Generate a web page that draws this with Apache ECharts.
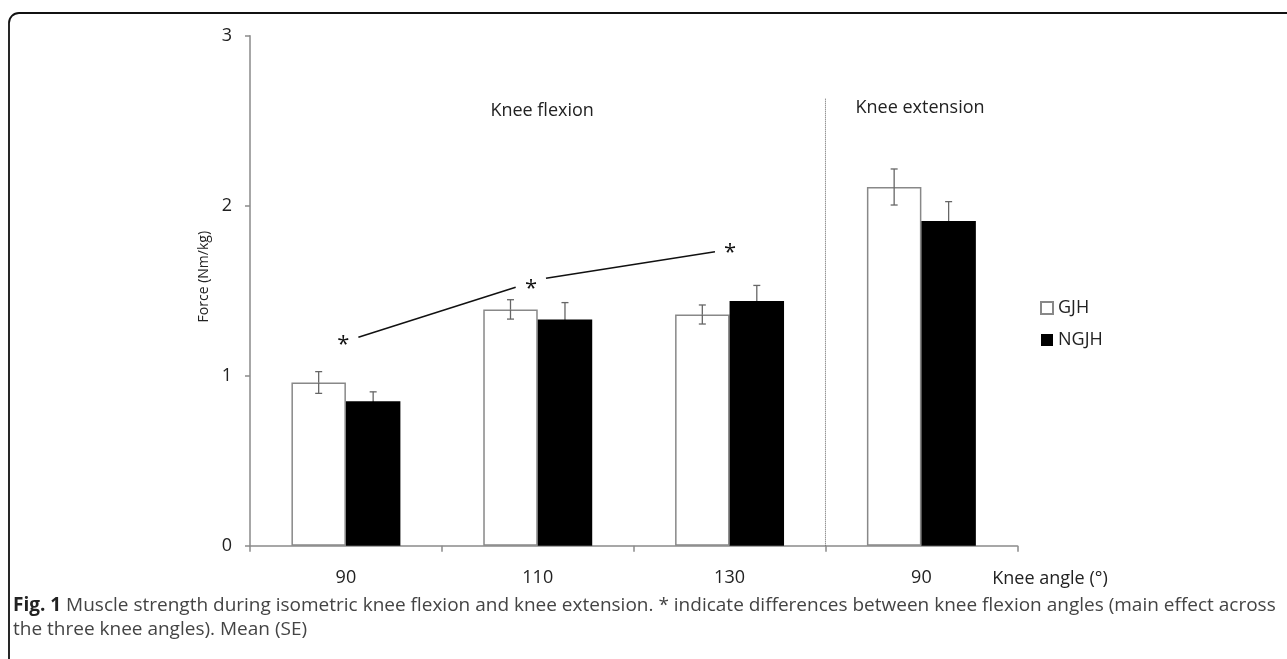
<!DOCTYPE html>
<html>
<head>
<meta charset="utf-8">
<script src="https://cdn.jsdelivr.net/npm/echarts@6/dist/echarts.min.js"></script>
<style>
html,body{margin:0;padding:0;background:#fff;}
#chart{width:1287px;height:659px;}
</style>
</head>
<body>
<div id="chart"></div>
<script>
// ---- data ----
const categories = ['90', '110', '130', '90'];
const seriesNames = ['GJH', 'NGJH'];
const gjh = [0.96, 1.39, 1.36, 2.11];
const gjhSE = [0.064, 0.057, 0.056, 0.106];
const ngjh = [0.85, 1.33, 1.44, 1.91];
const ngjhSE = [0.055, 0.100, 0.091, 0.114];
const yTicks = [0, 1, 2, 3];
// significance annotations (x in category units 0..4, y in Nm/kg)
const sigStars = [[0.487, 1.21], [1.465, 1.543], [2.503, 1.755]];
const sigLines = [[0.565, 1.226, 1.385, 1.52], [1.543, 1.573, 2.424, 1.729]];
const divider = [[3, 0, 3, 2.63]];
const panelLabels = [[1.523, 2.558, 'Knee flexion'], [3.493, 2.573, 'Knee extension']];
const xAxisTitle = 'Knee angle (°)';
const yAxisTitle = 'Force (Nm/kg)';
const captionBold = 'Fig. 1';
const captionLines = [
  ' Muscle strength during isometric knee flexion and knee extension. * indicate differences between knee flexion angles (main effect across',
  'the three knee angles). Mean (SE)'
];

const FONT = 'Open Sans';
const AXIS_COLOR = '#8a8a8a';
const TEXT_COLOR = '#222';
const GAP = 0.432; // barCategoryGap fraction

function errorItem(offsetSign, seArr, lowerColor) {
  return function (params, api) {
    const idx = api.value(0);
    const val = api.value(1);
    const se = seArr[params.dataIndex];
    const band = api.size([1, 0])[0];
    const bw = band * (1 - GAP) / 2;
    const c = api.coord([idx, val]);
    const x = c[0] + offsetSign * bw / 2;
    const top = api.coord([idx, val + se])[1];
    const bot = api.coord([idx, val - se])[1];
    const cap = 3.5;
    const st = {stroke: '#666', lineWidth: 1.3};
    const stLow = {stroke: lowerColor, lineWidth: 1.3};
    return {
      type: 'group',
      children: [
        {type: 'line', shape: {x1: x, y1: c[1], x2: x, y2: top}, style: st},
        {type: 'line', shape: {x1: x - cap, y1: top, x2: x + cap, y2: top}, style: st},
        {type: 'line', shape: {x1: x, y1: c[1], x2: x, y2: bot}, style: stLow},
        {type: 'line', shape: {x1: x - cap, y1: bot, x2: x + cap, y2: bot}, style: stLow}
      ]
    };
  };
}

const chart = echarts.init(document.getElementById('chart'));
chart.setOption({
  animation: false,
  backgroundColor: '#fff',
  textStyle: {fontFamily: FONT},
  grid: {left: 250, right: 269.7, top: 35.7, bottom: 113.3, containLabel: false},
  legend: {
    orient: 'vertical',
    left: 1040,
    top: 299,
    padding: 0,
    itemWidth: 12,
    itemHeight: 12,
    itemGap: 14,
    icon: 'rect',
    textStyle: {fontFamily: FONT, fontSize: 18, color: TEXT_COLOR},
    data: seriesNames
  },
  xAxis: [{
    type: 'category',
    data: categories,
    boundaryGap: true,
    axisLine: {lineStyle: {color: AXIS_COLOR, width: 1.5}},
    axisTick: {show: true, length: 6, alignWithLabel: false, lineStyle: {color: AXIS_COLOR, width: 1.5}},
    axisLabel: {fontFamily: FONT, fontSize: 18, color: TEXT_COLOR, margin: 23},
    name: xAxisTitle,
    nameLocation: 'end',
    nameGap: -25,
    nameTextStyle: {fontFamily: FONT, fontSize: 18, color: TEXT_COLOR, align: 'left', verticalAlign: 'top', padding: [24, 0, 0, 0]}
  }, {
    type: 'value',
    min: 0, max: 4,
    show: false
  }],
  yAxis: [{
    type: 'value',
    min: yTicks[0],
    max: yTicks[yTicks.length - 1],
    interval: 1,
    splitLine: {show: false},
    axisLine: {show: true, lineStyle: {color: AXIS_COLOR, width: 1.5}},
    axisTick: {show: true, length: 5, lineStyle: {color: AXIS_COLOR, width: 1.5}},
    axisLabel: {fontFamily: FONT, fontSize: 18, color: TEXT_COLOR, margin: 18},
    name: yAxisTitle,
    nameLocation: 'middle',
    nameGap: 32,
    nameRotate: 90,
    nameTextStyle: {fontFamily: FONT, fontSize: 14, color: TEXT_COLOR, padding: [0, 0, 0, 28]}
  }],
  series: [{
    name: seriesNames[0],
    type: 'bar',
    data: gjh,
    barGap: '0%',
    barCategoryGap: (GAP * 100) + '%',
    itemStyle: {color: '#fff', borderColor: '#888', borderWidth: 1.5},
    z: 2
  }, {
    name: seriesNames[1],
    type: 'bar',
    data: ngjh,
    itemStyle: {color: '#000', borderColor: '#000', borderWidth: 0},
    z: 2
  }, {
    type: 'custom',
    name: 'gjhErr',
    data: gjh.map((v, i) => [i, v]),
    renderItem: errorItem(-1, gjhSE, '#666'),
    z: 3,
    silent: true
  }, {
    type: 'custom',
    name: 'ngjhErr',
    data: ngjh.map((v, i) => [i, v]),
    renderItem: errorItem(1, ngjhSE, '#000'),
    z: 3,
    silent: true
  }, {
    type: 'custom',
    name: 'sigLines',
    xAxisIndex: 1,
    data: sigLines,
    encode: {x: [0, 2], y: [1, 3]},
    renderItem: function (params, api) {
      const a = api.coord([api.value(0), api.value(1)]);
      const b = api.coord([api.value(2), api.value(3)]);
      return {type: 'line', shape: {x1: a[0], y1: a[1], x2: b[0], y2: b[1]}, style: {stroke: '#111', lineWidth: 1.5}};
    },
    z: 4, silent: true
  }, {
    type: 'custom',
    name: 'divider',
    xAxisIndex: 1,
    data: divider,
    encode: {x: [0, 2], y: [1, 3]},
    renderItem: function (params, api) {
      const a = api.coord([api.value(0), api.value(1)]);
      const b = api.coord([api.value(2), api.value(3)]);
      return {type: 'line', shape: {x1: a[0], y1: a[1], x2: b[0], y2: b[1]}, style: {stroke: '#666', lineWidth: 1, lineDash: [1, 1]}};
    },
    z: 1, silent: true
  }, {
    type: 'custom',
    name: 'stars',
    xAxisIndex: 1,
    data: sigStars,
    renderItem: function (params, api) {
      const p = api.coord([api.value(0), api.value(1)]);
      return {type: 'text', x: p[0], y: p[1] + 5, style: {text: '*', fontFamily: FONT, fontSize: 22, fill: '#111', align: 'center', verticalAlign: 'middle'}};
    },
    z: 4, silent: true
  }, {
    type: 'custom',
    name: 'panelLabels',
    xAxisIndex: 1,
    data: panelLabels.map(d => [d[0], d[1]]),
    renderItem: function (params, api) {
      const d = panelLabels[params.dataIndex];
      const p = api.coord([api.value(0), api.value(1)]);
      return {type: 'text', x: p[0], y: p[1], style: {text: d[2], fontFamily: FONT, fontSize: 18, fill: TEXT_COLOR, align: 'center', verticalAlign: 'middle'}};
    },
    z: 4, silent: true
  }],
  graphic: [{
    type: 'rect',
    shape: {x: 9, y: 13, width: 1400, height: 700, r: 10},
    style: {stroke: '#111', lineWidth: 1.8, fill: null},
    silent: true
  }, {
    type: 'text',
    left: 13,
    top: 596,
    style: {
      text: '{b|' + captionBold + '}{n|' + captionLines[0] + '}\n{n|' + captionLines[1] + '}',
      rich: {
        b: {fontFamily: FONT, fontSize: 19, fontWeight: 'bold', fill: '#222', lineHeight: 24},
        n: {fontFamily: FONT, fontSize: 19, fill: '#444', lineHeight: 24}
      }
    }
  }]
});
</script>
</body>
</html>
